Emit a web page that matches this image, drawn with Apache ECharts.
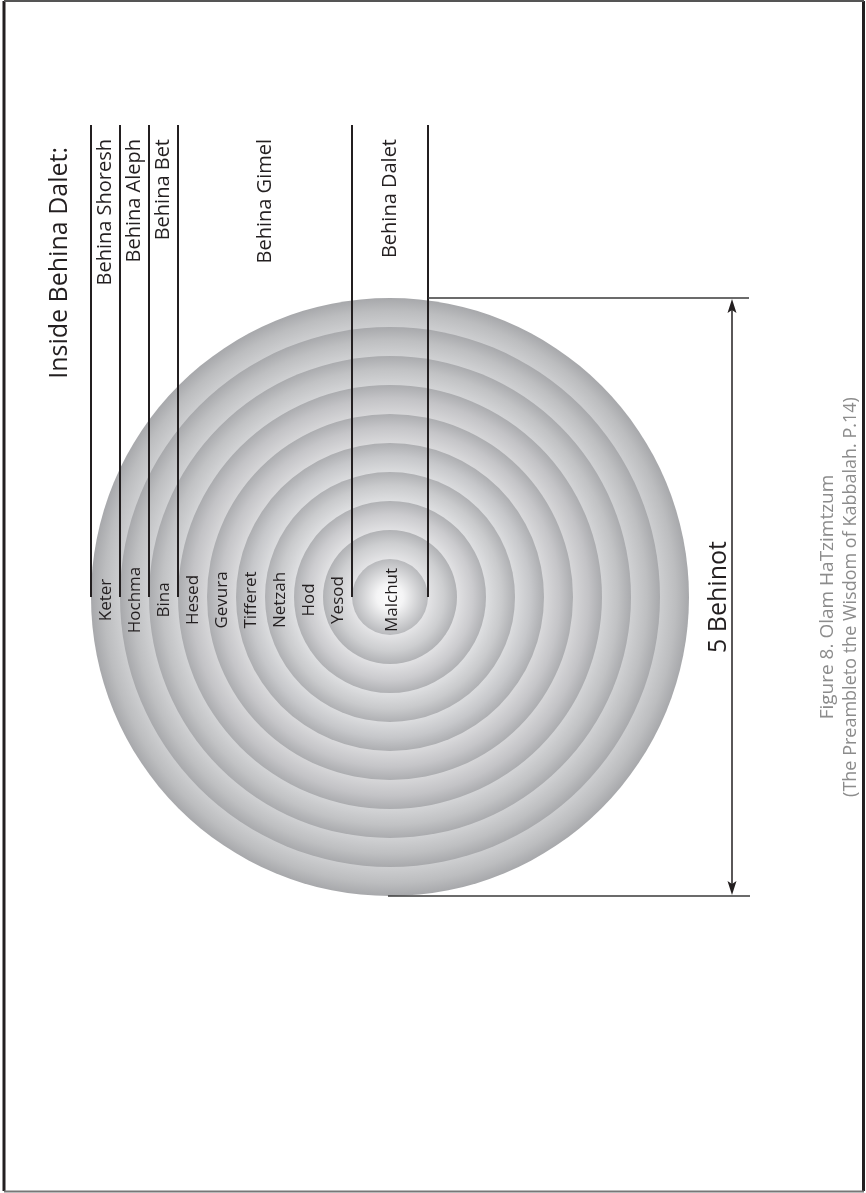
<!DOCTYPE html>
<html>
<head>
<meta charset="utf-8">
<script src="https://cdn.jsdelivr.net/npm/echarts@6/dist/echarts.min.js"></script>
<style>
html,body{margin:0;padding:0;background:#fff;}
#chart{width:866px;height:1193px;}
</style>
</head>
<body>
<div id="chart"></div>
<script>
// ---------- data ----------
const sefirot = ['Keter','Hochma','Bina','Hesed','Gevura','Tifferet','Netzah','Hod','Yesod','Malchut'];
const ringRadii = [299, 270, 241, 212, 183, 154, 125, 96, 67, 38];
const behinot = ['Behina Shoresh','Behina Aleph','Behina Bet','Behina Gimel','Behina Dalet'];
// first and last sefira index belonging to each behina
const behinaSpans = [[0,0],[1,1],[2,2],[3,8],[9,9]];
const diagramCenter = [390, 597];
const titleText = 'Inside Behina Dalet:';
const dimensionText = '5 Behinot';
const captionLines = ['Figure 8. Olam HaTzimtzum', '(The Preambleto the Wisdom of Kabbalah. P.14)'];

// ---------- layout / style ----------
const FONT = '"Open Sans", "Noto Sans", sans-serif';
const INK = '#231f20';
const lineTopY = 125;
const labelTopY = 139;
const arrowX = 732;
const dimRight = 749;
const ROT = Math.PI / 2;

function hexToRgb(h) {
  return [parseInt(h.slice(1,3),16), parseInt(h.slice(3,5),16), parseInt(h.slice(5,7),16)];
}
function mix(a, b, t) {
  const pa = hexToRgb(a), pb = hexToRgb(b);
  return '#' + pa.map((v,k) => {
    const s = Math.round(v + (pb[k]-v)*t).toString(16);
    return s.length < 2 ? '0' + s : s;
  }).join('');
}

function ringFill(i) {
  const n = ringRadii.length;
  if (i === n - 1) {
    return new echarts.graphic.RadialGradient(0.5, 0.5, 0.5, [
      {offset: 0, color: '#ffffff'},
      {offset: 0.35, color: '#f4f4f5'},
      {offset: 1, color: '#b8b9bc'}
    ]);
  }
  const f = ringRadii[i + 1] / ringRadii[i];
  const t = i / (n - 2);
  const cin = mix('#cdced0', '#e4e4e6', t);
  const cout = mix('#a7a8ab', '#b1b2b5', t);
  return new echarts.graphic.RadialGradient(0.5, 0.5, 0.5, [
    {offset: 0, color: '#ffffff'},
    {offset: f, color: cin},
    {offset: f + (1 - f) * 0.55, color: mix(cin, cout, 0.45)},
    {offset: 1, color: cout}
  ]);
}

const cx = diagramCenter[0], cy = diagramCenter[1];
const boundaryX = behinaSpans.map(s => cx - ringRadii[s[0]]).concat([cx + ringRadii[ringRadii.length - 1]]);

const chart = echarts.init(document.getElementById('chart'), null, {renderer: 'canvas'});

const option = {
  animation: false,
  backgroundColor: '#ffffff',
  grid: {left: 0, right: 0, top: 0, bottom: 0},
  xAxis: {type: 'value', min: 0, max: 866, show: false},
  yAxis: {type: 'value', min: 0, max: 1193, inverse: true, show: false},
  graphic: [
    // page frame
    {type: 'line', shape: {x1: 4, y1: 1, x2: 4, y2: 1191}, style: {stroke: INK, lineWidth: 3}},
    {type: 'line', shape: {x1: 863.5, y1: 1, x2: 863.5, y2: 1191}, style: {stroke: INK, lineWidth: 3}},
    {type: 'line', shape: {x1: 4, y1: 1, x2: 864, y2: 1}, style: {stroke: '#555', lineWidth: 2}},
    {type: 'line', shape: {x1: 4, y1: 1191.5, x2: 864, y2: 1191.5}, style: {stroke: '#777', lineWidth: 2}},
    {type: 'text', x: 60, y: 147, rotation: ROT,
     style: {text: titleText, fill: INK, font: '25px ' + FONT, align: 'right', verticalAlign: 'middle'}},
    {type: 'text', x: 828, y: 597, rotation: ROT,
     style: {text: captionLines[0], fill: '#8c8c8c', font: '19px ' + FONT, align: 'center', verticalAlign: 'middle'}},
    {type: 'text', x: 851, y: 597, rotation: ROT,
     style: {text: captionLines[1], fill: '#8c8c8c', font: '18px ' + FONT, align: 'center', verticalAlign: 'middle'}}
  ],
  series: [
    { // concentric sefirot circles
      type: 'custom', coordinateSystem: 'cartesian2d', z: 1,
      data: ringRadii.map((r, i) => [i, r]),
      renderItem: function (params, api) {
        const i = api.value(0);
        const c = api.coord(diagramCenter);
        const rp = api.size([api.value(1), 0])[0];
        return {type: 'circle', shape: {cx: c[0], cy: c[1], r: rp}, style: {fill: ringFill(i)}};
      }
    },
    { // sefirot names
      type: 'custom', coordinateSystem: 'cartesian2d', z: 3,
      data: sefirot.map((s, i) => [i]),
      renderItem: function (params, api) {
        const i = api.value(0);
        const last = ringRadii.length - 1;
        let x;
        if (i === last) x = cx + 2;
        else x = cx - (ringRadii[i] + ringRadii[i + 1]) / 2 + 1;
        const p = api.coord([x, cy + 3]);
        return {type: 'text', x: p[0], y: p[1], rotation: ROT,
          style: {text: sefirot[i], fill: INK, font: '17px ' + FONT, align: 'center', verticalAlign: 'middle'}};
      }
    },
    { // behina boundary lines
      type: 'custom', coordinateSystem: 'cartesian2d', z: 4,
      data: boundaryX.map(x => [x]),
      renderItem: function (params, api) {
        const a = api.coord([api.value(0), lineTopY]);
        const b = api.coord([api.value(0), cy]);
        return {type: 'line', shape: {x1: a[0], y1: a[1], x2: b[0], y2: b[1]}, style: {stroke: INK, lineWidth: 2}};
      }
    },
    { // behina names
      type: 'custom', coordinateSystem: 'cartesian2d', z: 4,
      data: behinot.map((b, i) => [boundaryX[i], boundaryX[i + 1]]),
      renderItem: function (params, api) {
        const mid = (api.value(0) + api.value(1)) / 2;
        const p = api.coord([mid, labelTopY]);
        return {type: 'text', x: p[0], y: p[1], rotation: ROT,
          style: {text: behinot[params.dataIndex], fill: INK, font: '20px ' + FONT, align: 'right', verticalAlign: 'middle'}};
      }
    },
    { // dimension: 5 Behinot
      type: 'custom', coordinateSystem: 'cartesian2d', z: 4,
      data: [[cy - ringRadii[0], cy + ringRadii[0]]],
      renderItem: function (params, api) {
        const yTop = api.value(0), yBot = api.value(1);
        const t1 = api.coord([cx + ringRadii[ringRadii.length - 1], yTop]);
        const t2 = api.coord([dimRight, yTop]);
        const b1 = api.coord([cx - 2, yBot]);
        const b2 = api.coord([dimRight + 1, yBot]);
        const aT = api.coord([arrowX, yTop]);
        const aB = api.coord([arrowX, yBot]);
        const mid = api.coord([arrowX - 13, (yTop + yBot) / 2]);
        return {type: 'group', children: [
          {type: 'line', shape: {x1: t1[0], y1: t1[1], x2: t2[0], y2: t2[1]}, style: {stroke: '#3a3a3a', lineWidth: 1.6}},
          {type: 'line', shape: {x1: b1[0], y1: b1[1], x2: b2[0], y2: b2[1]}, style: {stroke: '#3a3a3a', lineWidth: 1.6}},
          {type: 'line', shape: {x1: aT[0], y1: aT[1] + 8, x2: aB[0], y2: aB[1] - 8}, style: {stroke: INK, lineWidth: 1.5}},
          {type: 'polygon', shape: {points: [[aT[0], aT[1] + 1], [aT[0] - 4.5, aT[1] + 15], [aT[0], aT[1] + 12], [aT[0] + 4.5, aT[1] + 15]]}, style: {fill: INK}},
          {type: 'polygon', shape: {points: [[aB[0], aB[1] - 1], [aB[0] - 4.5, aB[1] - 15], [aB[0], aB[1] - 12], [aB[0] + 4.5, aB[1] - 15]]}, style: {fill: INK}},
          {type: 'text', x: mid[0], y: mid[1], rotation: ROT,
           style: {text: dimensionText, fill: INK, font: '25px ' + FONT, align: 'center', verticalAlign: 'middle'}}
        ]};
      }
    }
  ]
};
chart.setOption(option);
</script>
</body>
</html>
